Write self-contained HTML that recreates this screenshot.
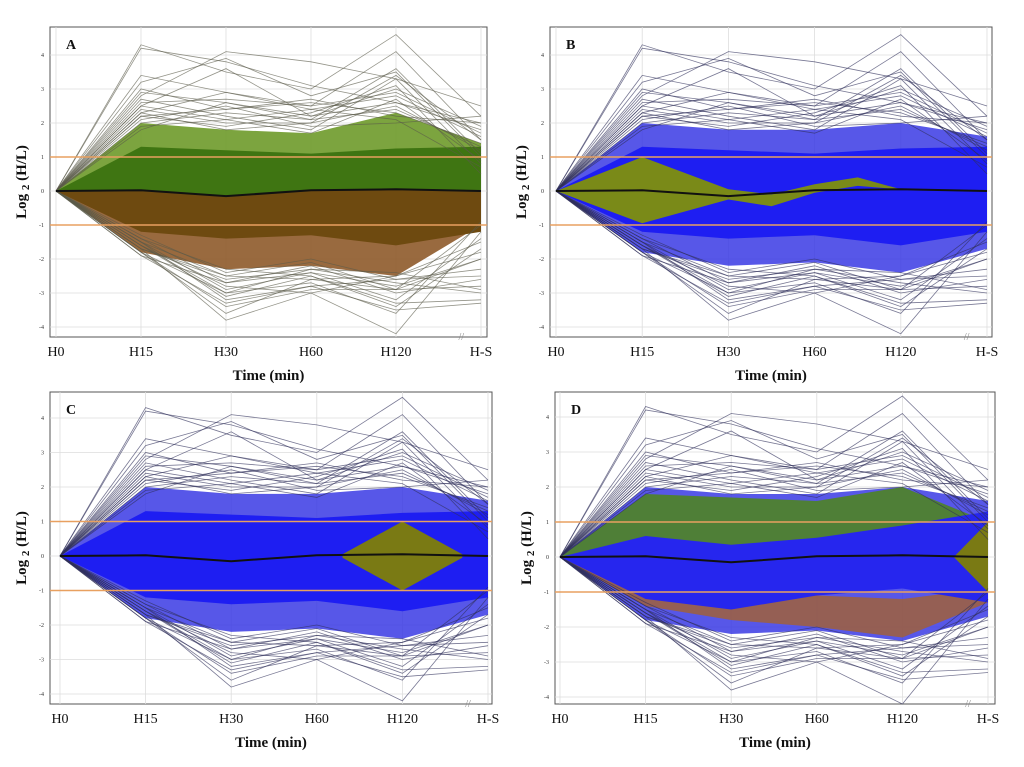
<!DOCTYPE html>
<html><head><meta charset="utf-8">
<style>
html,body{margin:0;padding:0;background:#fff;}
svg{display:block;}
text{font-family:"Liberation Serif",serif;}
</style></head>
<body>
<svg id="fig" width="1024" height="767" viewBox="0 0 1024 767" xmlns="http://www.w3.org/2000/svg"></svg>
<script>
// ---- data ----
const timeLabels = ["H0","H15","H30","H60","H120","H-S"];
const yTicks = [4,3,2,1,0,-1,-2,-3,-4];
const meanProfile = [0,0.02,-0.15,0.02,0.05,0];
const bandOuterHi = [0,2.0,1.8,1.7,2.3,1.4];
const bandOuterLo = [0,-1.8,-2.3,-2.2,-2.5,-1.0];
const bandCoreHi = [0,1.3,1.2,1.1,1.25,1.3];
const bandCoreLo = [0,-1.2,-1.4,-1.3,-1.6,-1.2];
const blueOuterHi = [0,2.0,1.8,1.8,2.0,1.6];
const blueOuterLo = [0,-1.8,-2.2,-2.1,-2.4,-1.7];
const outliers = [
 [0,4.3,3.5,3.0,4.6,2.2],[0,4.2,3.8,3.1,2.6,1.8],[0,3.4,2.9,2.5,4.1,1.5],
 [0,2.8,4.1,3.8,3.3,2.5],[0,3.2,3.9,2.8,3.5,1.0],[0,2.5,3.6,2.2,3.0,1.9],
 [0,3.0,2.4,2.7,2.2,2.0],[0,2.7,2.2,1.8,3.3,0.8],[0,2.3,2.9,2.4,2.8,1.6],
 [0,2.4,2.0,2.0,2.5,1.2],[0,2.1,2.5,1.9,2.0,2.2],[0,2.2,1.9,2.3,3.1,0.5],
 [0,2.0,2.3,2.1,2.4,1.3],[0,1.9,2.1,1.7,2.7,0.9],
 [0,2.6,2.7,2.5,2.9,1.7],[0,2.2,2.4,2.6,2.3,1.4],[0,2.9,2.6,2.1,3.6,1.1],
 [0,1.8,2.6,2.2,2.6,2.0],[0,2.3,1.8,2.0,3.4,1.5],[0,2.5,2.1,2.4,2.1,0.7],
 [0,-1.8,-3.6,-2.6,-2.9,-2.8],[0,-1.7,-3.8,-3.0,-4.2,-1.2],[0,-1.9,-3.3,-2.8,-3.5,-3.3],
 [0,-1.6,-3.1,-2.5,-3.3,-3.2],[0,-1.5,-2.9,-2.4,-2.8,-2.0],[0,-1.8,-3.4,-2.9,-2.9,-1.0],
 [0,-1.4,-2.7,-2.2,-3.0,-2.6],[0,-1.7,-2.6,-2.3,-2.7,-3.0],[0,-1.5,-2.5,-2.6,-2.5,-1.5],
 [0,-1.6,-3.0,-2.7,-3.6,-0.9],[0,-1.3,-2.4,-2.0,-2.6,-2.3],[0,-1.6,-2.8,-3.0,-2.5,-1.8],
 [0,-1.9,-2.7,-2.4,-3.2,-1.4],[0,-1.5,-3.2,-2.8,-2.6,-2.5],[0,-1.7,-2.5,-2.1,-2.9,-2.0],
 [0,-1.4,-2.3,-2.5,-3.4,-1.7],[0,-1.8,-3.0,-2.3,-2.4,-2.9]
];
// cluster envelopes: [xIndex, value]
const clusterB_hi = [[0,0],[1,1.0],[2,0.05],[2.5,-0.1],[3,0.2],[3.5,0.4],[4,0.05]];
const clusterB_lo = [[0,0],[1,-0.95],[2,-0.25],[2.5,-0.45],[3,-0.05],[3.5,0.15],[4,0.05]];
const clusterC_hi = [[3.3,0.05],[4,1.0],[4.7,0.05]];
const clusterC_lo = [[3.3,-0.05],[4,-1.0],[4.7,-0.05]];
const dGreenHi = [0,1.8,1.7,1.6,2.0,1.0];
const dGreenLo = [0,0.4,0.3,0.4,0.8,0.6];
const dBrownHi = [0,-0.8,-1.0,-1.1,-1.2,-0.9];
const dBrownLo = [0,-1.4,-1.8,-2.0,-2.3,-1.3];
const dBlueHi = [0,0.6,0.35,0.55,0.9,1.3];
const dBlueLo = [0,-1.2,-1.5,-1.1,-0.9,-1.3];
const dTri = [[4.6,0],[5,1.0],[5,-1.0]];

const NS="http://www.w3.org/2000/svg";
const svg=document.getElementById('fig');
function el(tag,attrs,parent){const e=document.createElementNS(NS,tag);for(const k in attrs)e.setAttribute(k,attrs[k]);(parent||svg).appendChild(e);return e;}

const panels=[
 {id:"a",letter:"A",l:50,t:27,r:487,b:337,x0:56,step:85,y0:191,unit:34},
 {id:"b",letter:"B",l:550,t:27,r:992,b:337,x0:556,step:86.2,y0:191,unit:34},
 {id:"c",letter:"C",l:50,t:392,r:492,b:704,x0:60,step:85.6,y0:556,unit:34.5},
 {id:"d",letter:"D",l:555,t:392,r:995,b:704,x0:560,step:85.6,y0:557,unit:35}
];

function drawPanel(p){
 const g=el('g',{});
 
 
 const X=i=>p.x0+i*p.step, Y=v=>p.y0-v*p.unit;
 const line=a=>a.map((v,i)=>X(i).toFixed(1)+','+Y(v).toFixed(1)).join(' ');
 const band=(hi,lo)=>line(hi)+' '+lo.map((v,i)=>[X(i),Y(v)]).reverse().map(q=>q[0].toFixed(1)+','+q[1].toFixed(1)).join(' ');
 const pairs=a=>a.map(q=>X(q[0]).toFixed(1)+','+Y(q[1]).toFixed(1)).join(' ');
 const frame=el('rect',{x:p.l,y:p.t,width:p.r-p.l,height:p.b-p.t,fill:'#fff',stroke:'#555','stroke-width':1},g);
 
 yTicks.forEach(v=>{const gl=el('line',{x1:p.l,x2:p.r,y1:Y(v),y2:Y(v),stroke:'#ddd','stroke-width':0.8},g);
  
  const tl=el('text',{x:p.l-6,y:Y(v)+2,'font-size':6,'text-anchor':'end',fill:'#333'},g);tl.textContent=v;
  });
 timeLabels.forEach((s,i)=>{const gl=el('line',{x1:X(i),x2:X(i),y1:p.t,y2:p.b,stroke:'#ddd','stroke-width':0.8},g);
  
  const tl=el('text',{x:X(i),y:p.b+19,'font-size':14,'text-anchor':'middle',fill:'#111'},g);tl.textContent=s;
  });
 if(p.id==="a"){
  let e=el('polygon',{points:band(bandOuterHi,meanProfile),fill:'#6e9a2a',opacity:0.9},g);
  e=el('polygon',{points:band(meanProfile,bandOuterLo),fill:'#8e5a2a',opacity:0.9},g);
  e=el('polygon',{points:band(bandCoreHi,meanProfile),fill:'#3f7512'},g);
  e=el('polygon',{points:band(meanProfile,bandCoreLo),fill:'#6e4a10'},g);
 } else {
  let e=el('polygon',{points:band(blueOuterHi,blueOuterLo),fill:'#3a3ae4',opacity:0.85},g);
  if(p.id!=="d"){e=el('polygon',{points:band(bandCoreHi,bandCoreLo),fill:'#1e1ef2'},g);}
  if(p.id==="b"){
   e=el('polygon',{points:pairs(clusterB_hi)+' '+pairs(clusterB_lo.slice().reverse()),fill:'#7a8a18'},g);
  }
  if(p.id==="c"){
   e=el('polygon',{points:pairs(clusterC_hi)+' '+pairs(clusterC_lo.slice().reverse()),fill:'#7a7a14'},g);
  }
  if(p.id==="d"){
   e=el('polygon',{points:band(dGreenHi,dGreenLo),fill:'#4f8424',opacity:0.9},g);
   e=el('polygon',{points:band(dBrownHi,dBrownLo),fill:'#a0603a',opacity:0.85},g);
   e=el('polygon',{points:band(dBlueHi,dBlueLo),fill:'#2626ee'},g);
   e=el('polygon',{points:pairs(dTri),fill:'#7a7a14'},g);
  }
 }
 outliers.forEach(a=>{const pl=el('polyline',{points:line(a),fill:'none',stroke:p.id==="a"?'#5a5a4a':'#30305a','stroke-width':0.8,opacity:0.65},g);
  });
 [1,-1].forEach(v=>{const t=el('line',{x1:p.l,x2:p.r,y1:Y(v),y2:Y(v),stroke:'#e8a060','stroke-width':1.5},g);
  });
 const m=el('polyline',{points:line(meanProfile),fill:'none',stroke:'#111','stroke-width':2},g);
 
 const bx=(X(4)+X(5))/2+20;
 const br=el('text',{x:bx,y:p.b+3,'font-size':10,fill:'#888'},g);br.textContent='//';
 
 const lt=el('text',{x:p.l+16,y:p.t+22,'font-size':14,'font-weight':'bold',fill:'#111'},g);lt.textContent=p.letter;
 
 const xt=el('text',{x:(p.l+p.r)/2,y:p.b+43,'font-size':15,'font-weight':'bold','text-anchor':'middle',fill:'#111'},g);xt.textContent='Time (min)';
 
 const cy=(p.t+p.b)/2;
 const yt=el('text',{x:p.l-24,y:cy,'font-size':15,'font-weight':'bold','text-anchor':'middle',fill:'#111',transform:`rotate(-90 ${p.l-24} ${cy})`},g);
 yt.innerHTML='Log <tspan font-size="11" dy="3">2</tspan><tspan dy="-3"> (H/L)</tspan>';
 
}
panels.forEach(drawPanel);
</script>
</body></html>
